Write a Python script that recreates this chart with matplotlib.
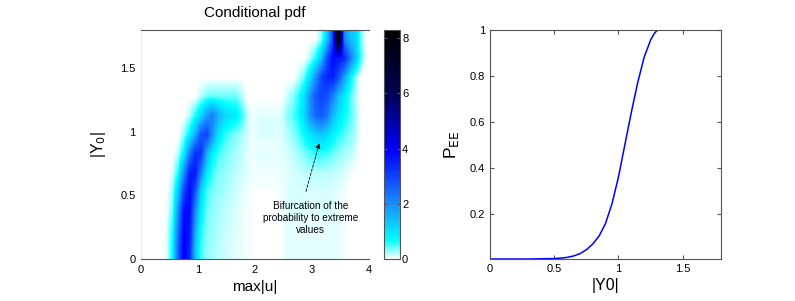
import numpy as np
import matplotlib
matplotlib.use('Agg')
from matplotlib import pyplot as plt
from matplotlib.colors import LinearSegmentedColormap

plt.rcParams['font.family'] = ['Liberation Sans', 'DejaVu Sans']

# conditional pdf, rows = |Y0| bins (0 -> 1.8, step 0.15), cols = max|u| bins (0 -> 4, step 0.1)
pdf_rows = [
    [0, 0, 0, 0, 0.1, 0.7, 2.6, 4.0, 3.4, 1.3, 0.5, 0.3, 0.25, 0.2, 0.15, 0.12, 0.1, 0.08, 0.05, 0.03,
     0, 0, 0, 0, 0.03, 0.08, 0.08, 0.08, 0.08, 0.08, 0.08, 0.08, 0.08, 0.08, 0.08, 0.04, 0, 0, 0, 0],
    [0, 0, 0, 0, 0.08, 0.6, 2.3, 3.9, 3.6, 1.6, 0.6, 0.35, 0.28, 0.22, 0.17, 0.13, 0.1, 0.08, 0.05, 0.03,
     0, 0, 0, 0, 0.03, 0.08, 0.08, 0.08, 0.08, 0.08, 0.08, 0.08, 0.08, 0.08, 0.08, 0.04, 0, 0, 0, 0],
    [0, 0, 0, 0, 0.05, 0.4, 1.9, 3.7, 3.8, 2.0, 0.8, 0.4, 0.3, 0.25, 0.2, 0.15, 0.12, 0.08, 0.05, 0.03,
     0, 0, 0, 0, 0.03, 0.1, 0.1, 0.1, 0.1, 0.1, 0.1, 0.1, 0.1, 0.1, 0.08, 0.05, 0, 0, 0, 0],
    [0, 0, 0, 0, 0.03, 0.25, 1.3, 3.0, 3.9, 2.7, 1.1, 0.5, 0.35, 0.3, 0.25, 0.2, 0.15, 0.1, 0.06, 0.03,
     0.03, 0.03, 0.03, 0.03, 0.05, 0.1, 0.1, 0.12, 0.12, 0.12, 0.12, 0.12, 0.12, 0.1, 0.08, 0.05, 0, 0, 0, 0],
    [0, 0, 0, 0, 0, 0.1, 0.6, 2.0, 3.5, 3.6, 2.1, 0.9, 0.5, 0.35, 0.3, 0.25, 0.2, 0.15, 0.1, 0.05,
     0.06, 0.06, 0.06, 0.06, 0.06, 0.1, 0.12, 0.15, 0.18, 0.2, 0.2, 0.2, 0.2, 0.18, 0.15, 0.12, 0.05, 0, 0, 0],
    [0, 0, 0, 0, 0, 0, 0.2, 0.8, 2.2, 3.3, 3.2, 1.6, 0.8, 0.5, 0.4, 0.3, 0.25, 0.18, 0.1, 0.05,
     0.08, 0.08, 0.08, 0.08, 0.08, 0.12, 0.18, 0.25, 0.35, 0.45, 0.55, 0.55, 0.5, 0.4, 0.3, 0.25, 0.2, 0.1, 0, 0],
    [0, 0, 0, 0, 0, 0, 0, 0.3, 0.8, 1.6, 2.8, 3.0, 1.9, 1.0, 0.6, 0.45, 0.35, 0.25, 0.15, 0.05,
     0.1, 0.1, 0.1, 0.1, 0.1, 0.2, 0.3, 0.45, 0.7, 0.95, 1.2, 1.3, 1.1, 0.8, 0.6, 0.45, 0.35, 0.2, 0, 0],
    [0, 0, 0, 0, 0, 0, 0, 0, 0.2, 0.6, 1.1, 1.8, 2.2, 1.6, 1.2, 1.0, 0.9, 0.6, 0.2, 0.05,
     0.1, 0.1, 0.1, 0.1, 0.1, 0.3, 0.45, 0.65, 1.1, 1.9, 2.5, 2.7, 2.3, 1.5, 1.0, 0.7, 0.5, 0.25, 0, 0],
    [0, 0, 0, 0, 0, 0, 0, 0, 0, 0, 0.2, 0.35, 0.4, 0.4, 0.4, 0.4, 0.4, 0.25, 0, 0,
     0, 0, 0, 0, 0, 0.15, 0.3, 0.55, 1.0, 1.9, 2.7, 3.0, 2.8, 2.2, 1.4, 0.9, 0.5, 0.2, 0, 0],
    [0, 0, 0, 0, 0, 0, 0, 0, 0, 0, 0, 0, 0, 0, 0, 0, 0, 0, 0, 0,
     0, 0, 0, 0, 0, 0, 0, 0.15, 0.4, 1.0, 1.9, 2.9, 3.4, 3.5, 2.8, 1.8, 0.9, 0.3, 0, 0],
    [0, 0, 0, 0, 0, 0, 0, 0, 0, 0, 0, 0, 0, 0, 0, 0, 0, 0, 0, 0,
     0, 0, 0, 0, 0, 0, 0, 0, 0, 0.2, 0.6, 1.3, 2.8, 3.8, 3.6, 3.4, 2.4, 1.4, 0.4, 0],
    [0, 0, 0, 0, 0, 0, 0, 0, 0, 0, 0, 0, 0, 0, 0, 0, 0, 0, 0, 0,
     0, 0, 0, 0, 0, 0, 0, 0, 0, 0, 0, 0.3, 1.2, 3.0, 8.3, 2.2, 1.4, 1.2, 0.3, 0],
]
pdf_max = 8.3

# right panel: P_EE against |Y0|
y0_vals = [0, 0.3, 0.5, 0.55, 0.6, 0.65, 0.7, 0.75, 0.8, 0.85, 0.9, 0.95, 1.0, 1.05,
           1.1, 1.15, 1.2, 1.25, 1.28, 1.3, 1.32, 1.35, 1.8]
pee_vals = [0.005, 0.005, 0.007, 0.009, 0.012, 0.018, 0.028, 0.045, 0.07, 0.105, 0.16,
            0.245, 0.36, 0.5, 0.64, 0.77, 0.88, 0.955, 0.985, 0.997, 1.0, 1.0, 1.0]

gray = '#555555'
cmap = LinearSegmentedColormap.from_list('pdfmap', [
    (0.0, (1, 1, 1)),
    (0.08, (0, 1, 1)),
    (0.24, (0.1, 0.55, 1)),
    (0.47, (0, 0, 1)),
    (0.72, (0, 0, 0.33)),
    (1.0, (0, 0, 0))])

fig = plt.figure(figsize=(7.95, 3.01), dpi=100)

ax1 = fig.add_axes([0.1774, 0.1395, 0.2868, 0.761])
im = ax1.imshow(np.array(pdf_rows), origin='lower', extent=[0, 4, 0, 1.8], aspect='auto',
                cmap=cmap, vmin=0, vmax=pdf_max, interpolation='bilinear')
ax1.set_xlim(0, 4)
ax1.set_ylim(0, 1.8)
ax1.set_xticks([0, 1, 2, 3, 4])
ax1.set_xticklabels(['0', '1', '2', '3', '4'])
ax1.set_yticks([0, 0.5, 1, 1.5])
ax1.set_yticklabels(['0', '0.5', '1', '1.5'])
ax1.spines['left'].set_color('#ececec')
ax1.spines['right'].set_visible(False)
for s in ['top', 'bottom']:
    ax1.spines[s].set_color(gray)
ax1.tick_params(length=0, labelsize=8, pad=4)
ax1.set_title('Conditional pdf', fontsize=11, pad=9)
ax1.set_xlabel('max|u|', fontsize=11, labelpad=4)
ax1.set_ylabel('|Y$_0$|', fontsize=11.5, labelpad=9)
ax1.annotate('', xy=(3.14, 0.93), xytext=(2.88, 0.51),
             arrowprops=dict(arrowstyle='-|>', linestyle=(0, (3, 2)), color='k', lw=0.6,
                             mutation_scale=7))
ax1.text(2.98, 0.32, 'Bifurcation of the\nprobability to extreme\nvalues', fontsize=7.2,
         ha='center', va='center', linespacing=1.25)

cax = fig.add_axes([0.483, 0.1395, 0.0201, 0.761])
cb = fig.colorbar(im, cax=cax, ticks=[0, 2, 4, 6, 8])
cb.outline.set_edgecolor(gray)
cax.tick_params(direction='in', length=2.5, color=gray, labelsize=8, left=True, pad=1.5)

ax2 = fig.add_axes([0.6164, 0.1395, 0.2906, 0.761])
ax2.plot(y0_vals, pee_vals, color=(0, 0, 1), lw=1.1)
ax2.set_xlim(0, 1.8)
ax2.set_ylim(0.005, 1)
ax2.set_xticks([0, 0.5, 1, 1.5])
ax2.set_xticklabels(['0', '0.5', '1', '1.5'])
ax2.set_yticks([0.2, 0.4, 0.6, 0.8, 1])
ax2.set_yticklabels(['0.2', '0.4', '0.6', '0.8', '1'])
for s in ax2.spines.values():
    s.set_color(gray)
ax2.tick_params(direction='in', length=3, color=gray, labelsize=8, top=True, right=True)
ax2.set_xlabel('|Y0|', fontsize=11.5, labelpad=3)
ax2.set_ylabel('P$_{\\mathrm{EE}}$', fontsize=12.5, labelpad=6)

fig.savefig('out.png', dpi=100)
